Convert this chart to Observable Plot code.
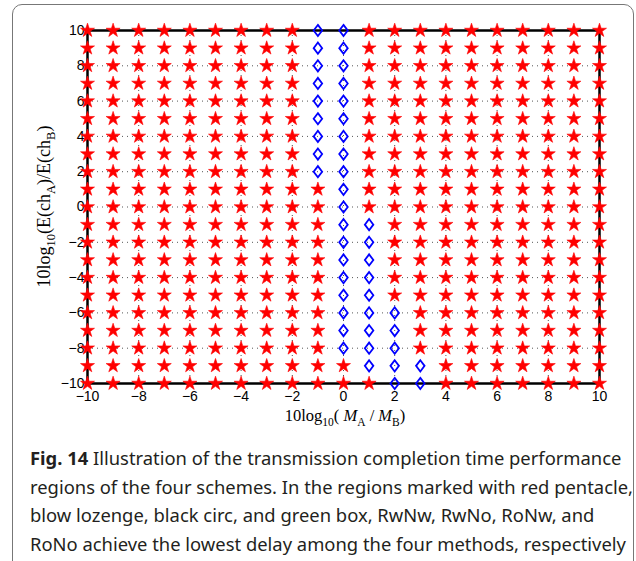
<!DOCTYPE html>
<html><head><meta charset="utf-8">
<script src="https://cdn.jsdelivr.net/npm/d3@7"></script>
<script src="https://cdn.jsdelivr.net/npm/@observablehq/plot@0.6"></script>
<style>
body{margin:0;background:#fff;width:636px;height:561px;overflow:hidden;position:relative;}
#box{position:absolute;left:12px;top:4px;width:620px;height:620px;border:1px solid #777;border-radius:10px;}
#chart{position:absolute;left:0;top:0;}
#chart svg g[aria-label="x-axis tick label"] text, #chart svg g[aria-label="y-axis tick label"] text{font-size:14px;font-family:'Liberation Sans',Arial,sans-serif;fill:#000;}
#caption{position:absolute;left:30px;top:444px;white-space:nowrap;font-family:"Noto Sans";font-size:18.4px;line-height:28.5px;color:#231f20;}
</style></head><body>
<div id="box"></div><div id="chart"></div>
<div id="caption"><b>Fig. 14</b> Illustration of the transmission completion time performance<br>regions of the four schemes. In the regions marked with red pentacle,<br>blow lozenge, black circ, and green box, RwNw, RwNo, RoNw, and<br>RoNo achieve the lowest delay among the four methods, respectively</div>
<script>
// grid coordinates (dB)
const gridValues = [-10,-9,-8,-7,-6,-5,-4,-3,-2,-1,0,1,2,3,4,5,6,7,8,9,10];
const xTicks = [-10,-8,-6,-4,-2,0,2,4,6,8,10];
const yTicks = [-10,-8,-6,-4,-2,0,2,4,6,8,10];
// blue lozenge region: column x, lowest y, highest y
const diamondCols = [-1, 0, 1, 2, 3];
const diamondYmin = [2, -8, -9, -10, -10];
const diamondYmax = [10, 10, -1, -6, -9];

const isDiamond = (x, y) => diamondCols.some((c, i) => c === x && y >= diamondYmin[i] && y <= diamondYmax[i]);
const points = [];
for (const x of gridValues) for (const y of gridValues) points.push({x, y, d: isDiamond(x, y)});
const stars = points.filter(p => !p.d);
const diamonds = points.filter(p => p.d);

const diamondSymbol = {
  draw(ctx, size) {
    const r = Math.sqrt(size / Math.PI);
    const w = r * 0.85, h = r * 1.12;
    ctx.moveTo(0, -h); ctx.lineTo(w, 0); ctx.lineTo(0, h); ctx.lineTo(-w, 0); ctx.closePath();
  }
};

const plot = Plot.plot({
  width: 636, height: 432,
  marginLeft: 87, marginRight: 37, marginTop: 30, marginBottom: 49,
  x: {domain: [-10, 10]},
  y: {domain: [-10, 10]},
  style: {fontFamily: "'Liberation Sans', Arial, sans-serif", fontSize: "14px", color: "black", background: "transparent", overflow: "visible"},
  marks: [
    Plot.gridX(xTicks, {stroke: "#444", strokeOpacity: 0.9, strokeDasharray: "1,4"}),
    Plot.gridY(yTicks, {stroke: "#444", strokeOpacity: 0.9, strokeDasharray: "1,4"}),
    Plot.frame({stroke: "black", strokeWidth: 2.5}),
    Plot.axisX(xTicks, {tickSize: 0, tickPadding: 8, label: null, fontSize: 14, fill: "black"}),
    Plot.axisY(yTicks, {tickSize: 0, tickPadding: 3, label: null, fontSize: 14, fill: "black"}),
    Plot.dot(stars, {x: "x", y: "y", symbol: "star", r: 4.4, fill: "#ff0000", stroke: "#ff0000", strokeWidth: 0.6}),
    Plot.dot(diamonds, {x: "x", y: "y", symbol: diamondSymbol, r: 5, fill: "none", stroke: "#0000ff", strokeWidth: 1.8})
  ]
});
document.getElementById("chart").appendChild(plot);

const svg = d3.select(plot);
const xs = plot.scale("x"), ys = plot.scale("y");
function rich(sel, parts, big, small, drop) {
  let shift = 0;
  for (const p of parts) {
    const target = p.sub ? drop : 0;
    const t = sel.append("tspan").text(p.t).attr("dy", target - shift);
    shift = target;
    t.style("font-size", (p.sub ? small : big) + "px");
    if (p.it) t.style("font-style", "italic");
  }
}
const serif = "'Liberation Serif', 'Times New Roman', serif";
const xTitle = svg.append("text")
  .attr("x", (xs.range[0] + xs.range[1]) / 2 + 2)
  .attr("y", ys.range[0] + 38)
  .attr("text-anchor", "middle")
  .style("font-family", serif).style("font-size", "16.5px").style("fill", "black");
rich(xTitle, [{t: "10log"}, {t: "10", sub: true}, {t: "( "}, {t: "M", it: true}, {t: "A", sub: true}, {t: " / "}, {t: "M", it: true}, {t: "B", sub: true}, {t: ")"}], 16.5, 11.5, 4.5);

const yTitle = svg.append("text")
  .attr("transform", `translate(50,${(ys.range[0] + ys.range[1]) / 2}) rotate(-90)`)
  .attr("text-anchor", "middle")
  .style("font-family", serif).style("font-size", "18px").style("fill", "black");
rich(yTitle, [{t: "10log"}, {t: "10", sub: true}, {t: "(E(ch"}, {t: "A", sub: true}, {t: ")/E(ch"}, {t: "B", sub: true}, {t: ")"}], 18, 12.5, 5);
</script>
</body></html>
